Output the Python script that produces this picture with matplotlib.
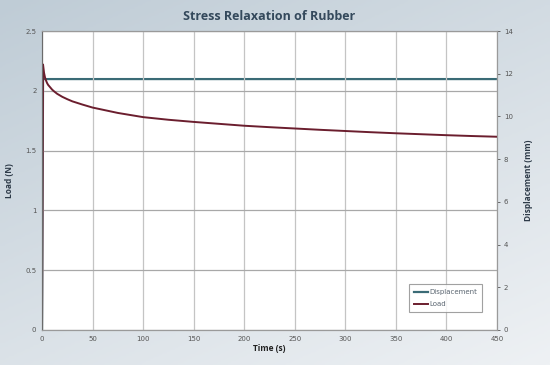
import numpy as np
from matplotlib import pyplot as plt
from matplotlib.colors import LinearSegmentedColormap

# donnees
time = [0, 1, 2, 3, 4, 5, 6, 8, 10, 12, 15, 20, 25, 30, 40, 50, 60, 75, 100, 125,
        150, 175, 200, 225, 250, 275, 300, 325, 350, 375, 400, 425, 450]
load = [0, 2.22, 2.15, 2.11, 2.085, 2.065, 2.05, 2.03, 2.01, 1.995, 1.975, 1.95, 1.93,
        1.912, 1.885, 1.86, 1.842, 1.815, 1.78, 1.758, 1.74, 1.724, 1.708, 1.696,
        1.685, 1.674, 1.664, 1.654, 1.645, 1.637, 1.629, 1.622, 1.616]
time_disp = [0, 1, 450]
displacement = [0, 11.75, 11.75]

fig = plt.figure(figsize=(5.5, 3.65), dpi=100)

# fond en degrade
bg = fig.add_axes([0, 0, 1, 1], zorder=-10)
gx, gy = np.meshgrid(np.linspace(0, 1, 200), np.linspace(0, 1, 200))
grad = 0.6 * gy + 0.4 * (1 - gx)
cmap = LinearSegmentedColormap.from_list("bg", ["#eef1f4", "#bfccd6"])
bg.imshow(grad, cmap=cmap, aspect="auto", extent=[0, 1, 0, 1], origin="lower")
bg.axis("off")

ax = fig.add_axes([0.0764, 0.0959, 0.8272, 0.8191])
ax.set_facecolor("white")
ax.plot(time, load, color="#6b1e2e", lw=1.4, label="Load")
ax.set_xlim(0, 450)
ax.set_ylim(0, 2.5)
ax.set_xticks(np.arange(0, 451, 50))
ax.set_yticks([0, 0.5, 1, 1.5, 2, 2.5])
ax.set_yticklabels(["0", "0.5", "1", "1.5", "2", "2.5"])
ax.grid(True, axis="x", color="#c4c4c4", lw=0.9)
ax.grid(True, axis="y", color="#a8a8a8", lw=0.9)
ax.set_axisbelow(True)
ax.tick_params(length=0, labelsize=5, colors="#555555", pad=4)
for s in ax.spines.values():
    s.set_color("#9a9a9a")
ax.spines["left"].set_color("#6b6b6b")
ax.set_xlabel("Time (s)", fontsize=6, fontweight="bold", color="#222222",
              family="Open Sans", labelpad=2)
ax.set_ylabel("Load (N)", fontsize=6, fontweight="bold", color="#2d3a48",
              family="Open Sans", labelpad=8)

ax2 = ax.twinx()
ax2.plot(time_disp, displacement, color="#3a6b76", lw=1.6, label="Displacement")
ax2.set_ylim(0, 14)
ax2.set_yticks(np.arange(0, 15, 2))
ax2.tick_params(length=2, width=0.6, labelsize=5, colors="#555555", pad=3)
for s in ax2.spines.values():
    s.set_color("#9a9a9a")
ax2.set_ylabel("Displacement (mm)", fontsize=6, fontweight="bold", color="#2d3a48",
               family="Open Sans", labelpad=8)
ax.set_zorder(ax2.get_zorder() + 1)
ax.patch.set_visible(False)
ax2.patch.set_facecolor("white")
ax2.patch.set_visible(True)

h1, l1 = ax.get_legend_handles_labels()
h2, l2 = ax2.get_legend_handles_labels()
leg = ax.legend(h2 + h1, l2 + l1, loc="lower right", bbox_to_anchor=(0.967, 0.06),
                borderaxespad=0, fontsize=5, fancybox=False, edgecolor="#8a8a8a",
                handlelength=2.0, labelspacing=0.9, borderpad=0.7, handletextpad=0.2)
leg.get_frame().set_linewidth(0.8)
for t in leg.get_texts():
    t.set_color("#5a6570")

fig.text(0.49, 0.955, "Stress Relaxation of Rubber", ha="center", va="center",
         fontsize=9, fontweight="bold", color="#34495c", family="Open Sans")

fig.savefig("out.png", dpi=100)
